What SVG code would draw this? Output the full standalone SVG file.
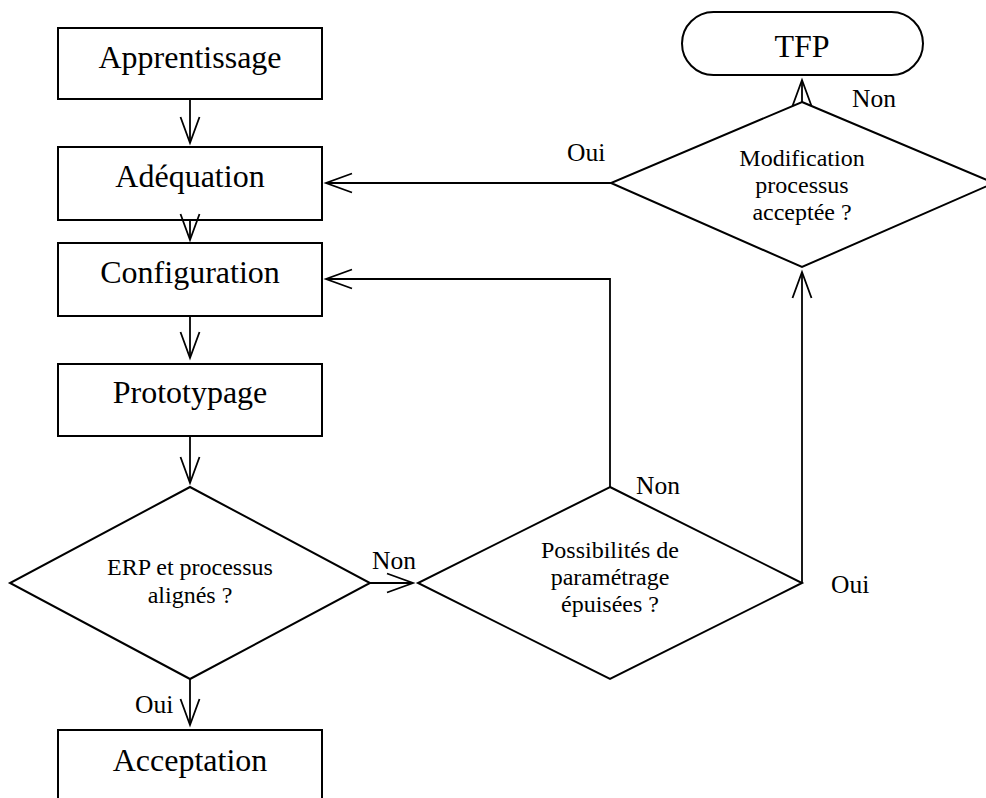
<svg xmlns="http://www.w3.org/2000/svg" width="986" height="798" viewBox="0 0 986 798">
  <style>
    .box { fill: #ffffff; stroke: #000000; stroke-width: 2; }
    .dec { fill: #ffffff; stroke: #000000; stroke-width: 2; }
    .big { font-family: "Liberation Serif", "Times New Roman", serif; font-size: 32px; fill: #000000; text-anchor: middle; }
    .small { font-family: "Liberation Serif", "Times New Roman", serif; font-size: 24px; fill: #000000; text-anchor: middle; }
    .lbl { font-family: "Liberation Serif", "Times New Roman", serif; font-size: 25.5px; fill: #000000; }
    .edge { fill: none; stroke: #000000; stroke-width: 1.8; }
  </style>
  <defs>
    <marker id="arrow" markerUnits="userSpaceOnUse" viewBox="-28 -12 30 24" refX="0" refY="0" markerWidth="30" markerHeight="24" orient="auto" overflow="visible">
      <path d="M-26,-9.5 L0,0 L-26,9.5" fill="none" stroke="#000000" stroke-width="1.8"/>
    </marker>
  </defs>

  <rect width="986" height="798" fill="#ffffff"/>

  <!-- process steps -->
  <g id="apprentissage">
    <rect class="box" x="58" y="28" width="264" height="71"/>
    <text class="big" x="190" y="68">Apprentissage</text>
  </g>
  <g id="adequation">
    <rect class="box" x="58" y="147" width="264" height="73"/>
    <text class="big" x="190" y="187">Adéquation</text>
  </g>
  <g id="configuration">
    <rect class="box" x="58" y="243" width="264" height="73"/>
    <text class="big" x="190" y="283">Configuration</text>
  </g>
  <g id="prototypage">
    <rect class="box" x="58" y="364" width="264" height="72"/>
    <text class="big" x="190" y="403">Prototypage</text>
  </g>
  <g id="acceptation">
    <rect class="box" x="58" y="730" width="264" height="80"/>
    <text class="big" x="190" y="771">Acceptation</text>
  </g>

  <!-- terminal -->
  <g id="tfp">
    <rect class="box" x="682" y="12" width="241" height="63" rx="31.5" ry="31.5"/>
    <text class="big" x="802" y="57">TFP</text>
  </g>

  <!-- decisions -->
  <g id="erp-alignes">
    <polygon class="dec" points="190,487 370,583 190,679 10,583"/>
    <text class="small" x="190" y="575">ERP et processus</text>
    <text class="small" x="190" y="603">alignés ?</text>
  </g>
  <g id="parametrage">
    <polygon class="dec" points="610,487 802,583 610,679 418,583"/>
    <text class="small" x="610" y="558">Possibilités de</text>
    <text class="small" x="610" y="585">paramétrage</text>
    <text class="small" x="610" y="612">épuisées ?</text>
  </g>
  <g id="modification">
    <polygon class="dec" points="802,102 994,183 802,267 611,183"/>
    <text class="small" x="802" y="166">Modification</text>
    <text class="small" x="802" y="193">processus</text>
    <text class="small" x="802" y="220">acceptée ?</text>
  </g>

  <!-- connectors -->
  <g id="connectors">
    <path class="edge" d="M190,99 L190,143" marker-end="url(#arrow)"/>
    <path class="edge" d="M190,220 L190,240" marker-end="url(#arrow)"/>
    <path class="edge" d="M190,316 L190,358" marker-end="url(#arrow)"/>
    <path class="edge" d="M190,436 L190,483" marker-end="url(#arrow)"/>
    <path class="edge" d="M190,679 L190,725" marker-end="url(#arrow)"/>
    <path class="edge" d="M370,583 L413,583" marker-end="url(#arrow)"/>
    <path class="edge" d="M610,487 L610,279 L326,279" marker-end="url(#arrow)"/>
    <path class="edge" d="M802,583 L802,272" marker-end="url(#arrow)"/>
    <path class="edge" d="M611,183 L326,183" marker-end="url(#arrow)"/>
    <path class="edge" d="M802,102 L802,80" marker-end="url(#arrow)"/>
  </g>

  <!-- branch labels -->
  <g id="labels">
    <text class="lbl" x="372" y="569">Non</text>
    <text class="lbl" x="135" y="713">Oui</text>
    <text class="lbl" x="636" y="494">Non</text>
    <text class="lbl" x="831" y="593">Oui</text>
    <text class="lbl" x="567" y="161">Oui</text>
    <text class="lbl" x="852" y="107">Non</text>
  </g>
</svg>
